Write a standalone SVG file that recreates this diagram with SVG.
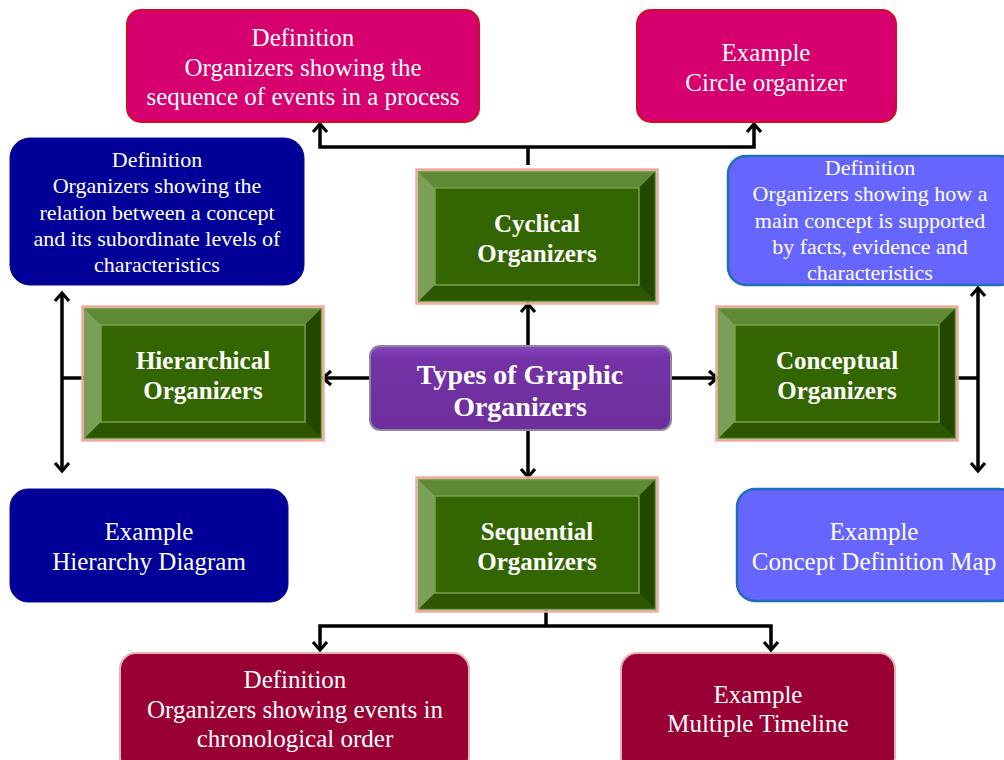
<svg xmlns="http://www.w3.org/2000/svg" xmlns:xlink="http://www.w3.org/1999/xlink" width="1004" height="760" viewBox="0 0 1004 760">
<style>
text{font-family:"Liberation Serif","Times New Roman",serif;fill:#fff;text-anchor:middle}
.t24{font-size:25px}
.t21{font-size:22px}
.b24{font-size:25px;font-weight:bold}
.b28{font-size:28px;font-weight:bold}
.pink{fill:#d6006e;stroke:#d01020;stroke-width:2}
.navy{fill:#000099;stroke:#0a0a90;stroke-width:1}
.lblue{fill:#6666ff;stroke:#1c6fb8;stroke-width:2.5}
.maroon{fill:#990033;stroke:#e6b4b4;stroke-width:2}
.conn{fill:none;stroke:#000;stroke-width:3.5}
</style>
<defs>
<linearGradient id="pg" x1="0" y1="0" x2="0" y2="1">
<stop offset="0" stop-color="#8a44bf"/><stop offset="0.15" stop-color="#7433a6"/><stop offset="1" stop-color="#6e2e9c"/>
</linearGradient>
<marker id="arr" viewBox="0 0 12 18" refX="10" refY="9" markerWidth="12" markerHeight="18" orient="auto" markerUnits="userSpaceOnUse">
<path d="M2,2 L10,9 L2,16" fill="none" stroke="#000" stroke-width="3.2"/>
</marker>
<g id="bevel">
<rect x="-1.5" y="-1.5" width="241" height="134" fill="none" stroke="#f4aaa4" stroke-width="2.5"/>
<rect x="0" y="0" width="238" height="131" fill="#336600"/>
<path d="M0,0 H238 L221,17 H17 Z" fill="#5e8a36"/>
<path d="M0,0 L17,17 V114 L0,131 Z" fill="#7a9f58"/>
<path d="M238,0 V131 L221,114 V17 Z" fill="#224800"/>
<path d="M0,131 L17,114 H221 L238,131 Z" fill="#2c5600"/>
<rect x="17" y="17" width="204" height="97" fill="#336600" stroke="#79a04c" stroke-width="1.5"/>
<rect x="0.5" y="0.5" width="237" height="130" fill="none" stroke="#79a04c" stroke-width="1.5"/>
</g>
</defs>
<rect width="1004" height="760" fill="#fff"/>

<g id="connectors">
<path class="conn" d="M528,165 V147"/>
<path class="conn" d="M528,147 H320 V124" marker-end="url(#arr)"/>
<path class="conn" d="M528,147 H754 V124" marker-end="url(#arr)"/>
<path class="conn" d="M528,346 V304" marker-end="url(#arr)"/>
<path class="conn" d="M528,430 V477" marker-end="url(#arr)"/>
<path class="conn" d="M370,378 H323" marker-end="url(#arr)"/>
<path class="conn" d="M671,378 H717" marker-end="url(#arr)"/>
<path class="conn" d="M84,378 H62"/>
<path class="conn" d="M62,378 V293" marker-end="url(#arr)"/>
<path class="conn" d="M62,378 V471" marker-end="url(#arr)"/>
<path class="conn" d="M956,378 H978"/>
<path class="conn" d="M978,378 V288" marker-end="url(#arr)"/>
<path class="conn" d="M978,378 V471" marker-end="url(#arr)"/>
<path class="conn" d="M546,610 V626"/>
<path class="conn" d="M546,626 H320 V650" marker-end="url(#arr)"/>
<path class="conn" d="M546,626 H771 V650" marker-end="url(#arr)"/>
</g>

<g id="cyc-def">
<rect class="pink" x="127" y="10" width="352" height="112" rx="14"/>
<text class="t24" x="303" y="46">Definition</text>
<text class="t24" x="303" y="76">Organizers showing the</text>
<text class="t24" x="303" y="105">sequence of events in a process</text>
</g>
<g id="cyc-ex">
<rect class="pink" x="637" y="10" width="259" height="112" rx="14"/>
<text class="t24" x="766" y="61">Example</text>
<text class="t24" x="766" y="91">Circle organizer</text>
</g>

<g id="hier-def">
<rect class="navy" x="10" y="138" width="294" height="147" rx="20"/>
<text class="t21" x="157" y="167">Definition</text>
<text class="t21" x="157" y="193">Organizers showing the</text>
<text class="t21" x="157" y="220">relation between a concept</text>
<text class="t21" x="157" y="246">and its subordinate levels of</text>
<text class="t21" x="157" y="272">characteristics</text>
</g>
<g id="hier-ex">
<rect class="navy" x="10" y="489" width="278" height="113" rx="18"/>
<text class="t24" x="149" y="540">Example</text>
<text class="t24" x="149" y="570">Hierarchy Diagram</text>
</g>

<g id="conc-def">
<rect class="lblue" x="728" y="156" width="290" height="129" rx="18"/>
<text class="t21" x="870" y="175">Definition</text>
<text class="t21" x="870" y="201">Organizers showing how a</text>
<text class="t21" x="870" y="228">main concept is supported</text>
<text class="t21" x="870" y="254">by facts, evidence and</text>
<text class="t21" x="870" y="280">characteristics</text>
</g>
<g id="conc-ex">
<rect class="lblue" x="737" y="489" width="280" height="112" rx="18"/>
<text class="t24" x="874" y="540">Example</text>
<text class="t24" x="874" y="570">Concept Definition Map</text>
</g>

<g id="seq-def">
<rect class="maroon" x="120" y="653" width="349" height="120" rx="16"/>
<text class="t24" x="295" y="688">Definition</text>
<text class="t24" x="295" y="718">Organizers showing events in</text>
<text class="t24" x="295" y="747">chronological order</text>
</g>
<g id="seq-ex">
<rect class="maroon" x="621" y="653" width="274" height="120" rx="16"/>
<text class="t24" x="758" y="703">Example</text>
<text class="t24" x="758" y="732">Multiple Timeline</text>
</g>

<g id="cyclical">
<use xlink:href="#bevel" href="#bevel" x="418" y="171"/>
<text class="b24" x="537" y="232">Cyclical</text>
<text class="b24" x="537" y="262">Organizers</text>
</g>
<g id="hierarchical">
<use xlink:href="#bevel" href="#bevel" x="84" y="308"/>
<text class="b24" x="203" y="369">Hierarchical</text>
<text class="b24" x="203" y="399">Organizers</text>
</g>
<g id="conceptual">
<use xlink:href="#bevel" href="#bevel" x="718" y="308"/>
<text class="b24" x="837" y="369">Conceptual</text>
<text class="b24" x="837" y="399">Organizers</text>
</g>
<g id="sequential">
<use xlink:href="#bevel" href="#bevel" x="418" y="479"/>
<text class="b24" x="537" y="540">Sequential</text>
<text class="b24" x="537" y="570">Organizers</text>
</g>

<g id="center">
<rect x="370" y="346" width="301" height="84" rx="10" fill="url(#pg)" stroke="#8a8a9a" stroke-width="2"/>
<text class="b28" x="520" y="384">Types of Graphic</text>
<text class="b28" x="520" y="416">Organizers</text>
</g>
</svg>
